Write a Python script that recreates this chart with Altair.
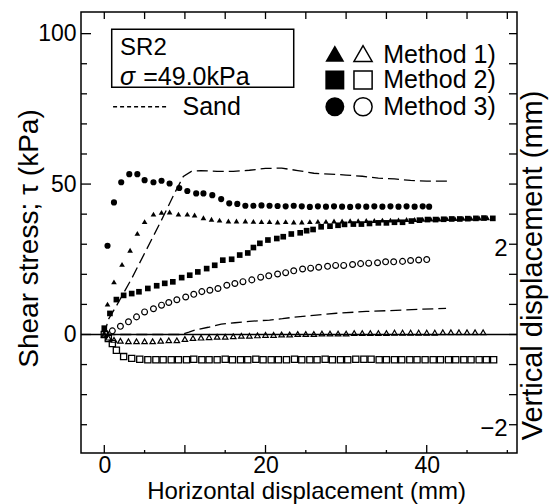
import altair as alt
import pandas as pd

FONT = "Liberation Sans"

# ---------------- data ----------------
# Method 1) shear stress (filled triangles): horizontal disp (mm), tau (kPa)
m1_x = [0.4, 1.2, 2.2, 3.2, 4.1, 5.0, 6.1, 7.1, 8.1, 9.2, 10.3, 11.2, 12.3, 13.3, 14.3, 15.4,
        16.4, 17.5, 18.5, 19.5, 20.5, 21.5, 22.5, 23.5, 24.5, 25.5, 26.5, 27.5, 28.5, 29.5,
        30.5, 31.5, 32.5, 33.5, 34.5, 35.5, 36.5, 37.5, 38.5, 39.5, 40.5, 41.5, 42.5, 43.5,
        44.5, 45.5, 46.5, 47.5]
m1_tau = [10.1, 17.5, 23.3, 28.0, 33.6, 37.5, 40.0, 40.6, 40.7, 40.0, 40.0, 39.7, 38.8, 38.3,
          38.0, 37.7, 37.7, 37.7, 37.6, 37.5, 37.5, 37.4, 37.5, 37.4, 37.4, 37.5, 37.6, 37.6,
          37.7, 37.7, 37.8, 37.8, 37.9, 37.9, 38.0, 38.0, 38.1, 38.2, 38.2, 38.3, 38.4, 38.4,
          38.5, 38.5, 38.6, 38.6, 38.7, 38.8]

# Method 2) shear stress (filled squares)
m2_x = [0.0, 0.7, 1.5, 2.4, 3.4, 4.3, 5.4, 6.5, 7.5, 8.5, 9.6, 10.6, 11.6, 12.7, 13.7, 14.7,
        15.8, 16.8, 17.8, 18.5, 19.3, 20.3, 21.4, 22.2, 23.2, 24.3, 25.1, 25.9, 26.9, 28.0,
        29.0, 29.8, 30.9, 31.9, 32.9, 34.0, 35.0, 36.0, 37.0, 38.1, 39.1, 40.1, 41.1, 42.1,
        43.1, 44.1, 45.1, 46.1, 47.1, 48.2]
m2_tau = [2.1, 7.0, 11.6, 13.0, 13.6, 14.2, 15.3, 16.2, 17.0, 17.5, 18.9, 19.7, 20.8, 21.9,
          23.0, 24.7, 25.0, 26.4, 27.1, 28.9, 30.3, 31.4, 31.9, 32.5, 33.4, 33.8, 34.5, 34.9,
          35.8, 36.0, 36.3, 36.6, 36.7, 36.7, 36.9, 37.1, 37.1, 37.3, 37.3, 37.7, 38.0, 38.2,
          38.2, 38.3, 38.4, 38.4, 38.5, 38.6, 38.7, 38.6]

# Method 3) shear stress (filled circles)
m3_x = [0.4, 1.2, 2.1, 3.1, 4.1, 5.0, 6.1, 7.1, 8.1, 9.3, 10.3, 11.4, 12.3, 13.4, 14.5, 15.5,
        16.5, 17.5, 18.5, 19.5, 20.5, 21.5, 22.5, 23.5, 24.5, 25.5, 26.5, 27.5, 28.5, 29.5,
        30.5, 31.5, 32.5, 33.5, 34.5, 35.5, 36.5, 37.5, 38.5, 39.5, 40.3]
m3_tau = [29.5, 43.9, 50.6, 53.3, 53.3, 51.3, 50.6, 51.1, 50.2, 48.7, 47.7, 46.9, 46.9, 46.3,
          45.0, 43.6, 43.4, 42.8, 42.8, 42.9, 42.8, 42.7, 42.6, 42.8, 42.6, 42.4, 42.6, 42.5,
          42.6, 42.5, 42.4, 42.6, 42.5, 42.6, 42.5, 42.6, 42.5, 42.6, 42.5, 42.6, 42.5]

# Sand shear stress (dashed)
sand_x = [0.0, 0.5, 1.5, 3.4, 5.0, 7.0, 8.8, 9.8, 10.8, 12.0, 14.0, 16.0, 18.0, 20.0, 22.0,
          24.0, 26.0, 28.0, 30.0, 32.0, 34.0, 36.0, 38.0, 40.0, 42.6]
sand_tau = [0.0, 5.0, 9.5, 18.6, 27.0, 37.5, 47.4, 52.5, 54.2, 54.5, 54.2, 54.2, 54.6, 55.2,
            55.3, 54.5, 53.6, 53.3, 53.0, 52.6, 52.0, 51.7, 51.2, 51.0, 51.0]

# Method 1) vertical displacement (open triangles): mm
v1_x = [0.0, 0.5, 1.2, 2.0, 3.0, 4.0, 5.0, 6.0, 7.0, 8.0, 9.0, 10.0, 11.0, 12.0, 13.0, 14.0,
        15.0, 16.0, 17.0, 18.0, 19.0, 20.0, 21.0, 22.0, 23.0, 24.0, 25.0, 26.0, 27.0, 28.0,
        29.0, 30.0, 31.0, 32.0, 33.0, 34.0, 35.0, 36.0, 37.0, 38.0, 39.0, 40.0, 41.0, 42.0,
        43.0, 44.0, 45.0, 46.0, 47.0]
v1_d = [0.0, -0.07, -0.12, -0.14, -0.15, -0.15, -0.15, -0.15, -0.14, -0.13, -0.13, -0.10,
        -0.08, -0.07, -0.06, -0.05, -0.05, -0.04, -0.03, -0.03, -0.02, -0.01, -0.01, 0.0, 0.0,
        0.01, 0.01, 0.01, 0.02, 0.02, 0.02, 0.02, 0.03, 0.03, 0.03, 0.03, 0.03, 0.04, 0.04,
        0.04, 0.04, 0.04, 0.04, 0.05, 0.05, 0.05, 0.05, 0.05, 0.05]

# Method 2) vertical displacement (open squares)
v2_x = [0.0, 0.5, 1.0, 1.5, 2.4, 3.4, 4.4, 5.4, 6.4, 7.3, 8.3, 9.2, 10.2, 11.1, 12.1, 13.0,
        14.0, 15.0, 15.9, 16.9, 17.8, 18.8, 19.7, 20.7, 21.6, 22.6, 23.6, 24.5, 25.5, 26.4,
        27.4, 28.3, 29.3, 30.2, 31.2, 32.2, 33.1, 34.1, 35.0, 36.0, 36.9, 37.9, 38.8, 39.8,
        40.8, 41.7, 42.7, 43.6, 44.6, 45.5, 46.5, 47.4, 48.3]
v2_d = [0.0, -0.09, -0.20, -0.35, -0.49, -0.53, -0.55, -0.56, -0.56, -0.56, -0.56, -0.56,
        -0.56, -0.55, -0.56, -0.56, -0.56, -0.55, -0.56, -0.56, -0.56, -0.55, -0.56, -0.56,
        -0.56, -0.56, -0.55, -0.56, -0.56, -0.56, -0.55, -0.56, -0.56, -0.56, -0.55, -0.55,
        -0.55, -0.56, -0.56, -0.56, -0.56, -0.56, -0.56, -0.56, -0.56, -0.56, -0.56, -0.56,
        -0.56, -0.56, -0.56, -0.56, -0.56]

# Method 3) vertical displacement (open circles)
v3_x = [0.2, 1.0, 2.0, 3.0, 4.0, 5.0, 6.1, 7.1, 8.0, 9.0, 10.1, 11.1, 12.1, 13.1, 14.1, 15.2,
        16.2, 17.2, 18.3, 19.4, 20.4, 21.5, 22.5, 23.5, 24.6, 25.6, 26.6, 27.7, 28.7, 29.7,
        30.8, 31.8, 32.8, 33.9, 34.9, 35.9, 37.0, 38.0, 39.0, 40.0]
v3_d = [0.02, 0.08, 0.18, 0.28, 0.39, 0.50, 0.57, 0.65, 0.71, 0.77, 0.83, 0.89, 0.95, 0.98,
        1.02, 1.09, 1.13, 1.17, 1.21, 1.27, 1.30, 1.34, 1.37, 1.41, 1.45, 1.47, 1.49, 1.51,
        1.53, 1.53, 1.55, 1.57, 1.58, 1.59, 1.61, 1.61, 1.62, 1.64, 1.65, 1.66]

# Sand vertical displacement (dashed)
sandv_x = [0.0, 9.5, 10.5, 11.3, 12.9, 14.5, 16.2, 18.0, 20.5, 22.1, 23.4, 26.3, 28.8, 32.5,
           35.4, 39.5, 42.4]
sandv_d = [0.0, 0.0, 0.05, 0.10, 0.16, 0.23, 0.26, 0.29, 0.32, 0.35, 0.38, 0.43, 0.47, 0.51,
           0.53, 0.56, 0.58]

# axis ticks / labels
x_label_values = [0, 20, 40]
x_major_ticks = [0, 10, 20, 30, 40]
x_minor_ticks = [5, 15, 25, 35, 45, 50]
x_top_ticks = [0, 5, 10, 15, 20, 25, 30, 35, 40, 45, 50]
y_label_values = [0, 50, 100]
y_major_ticks = [0, 50, 100]
y_minor_ticks = [-30, -20, -10, 10, 20, 30, 40, 60, 70, 80, 90]
y_right_ticks = [-30, -20, -10, 0, 10, 20, 30, 40, 50, 60, 70, 80, 90, 100]
yr_label_values = [2, -2]

# legend annotations (data coordinates: mm, kPa)
leg_labels = ["Method 1)", "Method 2)", "Method 3)"]
leg_shapes = ["triangle-up", "square", "circle"]
leg_sym_y = [93.4, 84.6, 75.7]
leg_text_y = [90.2, 81.8, 72.9]
leg_fill_x = 28.6
leg_open_x = 32.1
leg_text_x = 34.6
box_x = [0.92, 23.5]
box_y = [82.2, 101.5]
sr2_text = ["SR2"]
sigma_text = ["σ", "=49.0kPa"]
sand_leg_x = [1.09, 7.79]
sand_leg_y = 75.7
sand_label = "Sand"

# ---------------- chart ----------------
W, H = 436, 441
XS = alt.Scale(domain=[-2.89, 51.2], nice=False, zero=False)
YS = alt.Scale(domain=[-39.4, 107.2], nice=False, zero=False)
YRS = alt.Scale(domain=[-39.4 / 15, 107.2 / 15], nice=False, zero=False)

xaxis = alt.Axis(values=x_label_values, title="Horizontal displacement (mm)", grid=False,
                 ticks=False, tickSize=0, domain=False, labelFontSize=23, labelPadding=1,
                 labelFont=FONT, labelColor="black", titleFont=FONT, titleFontSize=24,
                 titleFontWeight="normal", titleColor="black", titleX=225, titleY=45,
                 titleBaseline="alphabetic", titleAlign="center")
yaxis = alt.Axis(values=y_label_values, title="Shear stress; τ (kPa)", orient="left",
                 grid=False, ticks=False, tickSize=0, domain=False, labelFontSize=23,
                 labelPadding=5, labelFont=FONT, labelColor="black", titleFont=FONT,
                 titleFontSize=28, titleFontWeight="normal", titleColor="black",
                 titleAngle=270, titleX=-44, titleY=226, titleBaseline="alphabetic",
                 titleAlign="center")
yraxis = alt.Axis(values=yr_label_values, title="Vertical displacement (mm)", orient="right",
                  labelExpr="datum.value > 0 ? '2' : '−2'", grid=False, ticks=False,
                  tickSize=0, domain=False, labelFontSize=24, labelAlign="right",
                  labelPadding=-10, labelOffset=4, labelFont=FONT, labelColor="black",
                  titleFont=FONT, titleFontSize=29, titleFontWeight="normal",
                  titleColor="black", titleAngle=270, titleX=24, titleY=253,
                  titleBaseline="alphabetic", titleAlign="center")


def XE(f="x"):
    return alt.X(f"{f}:Q", scale=XS, axis=xaxis)


def YE(f="y"):
    return alt.Y(f"{f}:Q", scale=YS, axis=yaxis)


def YRE(f="y"):
    return alt.Y(f"{f}:Q", scale=YRS, axis=yraxis)


def df(xs, ys):
    return pd.DataFrame({"x": xs, "y": ys})


def pts(data, shape, filled, size, yenc, sw=1.0):
    return alt.Chart(data).mark_point(shape=shape, filled=filled, size=size, color="black",
                                       opacity=1, strokeWidth=sw).encode(x=XE(), y=yenc)


left = []
left.append(alt.Chart(df(sand_x, sand_tau)).mark_line(color="black", strokeWidth=1.3,
                                                       strokeDash=[11, 5]).encode(x=XE(), y=YE()))
left.append(pts(df(m1_x, m1_tau), "triangle-up", True, 32, YE()))
left.append(pts(df(m2_x, m2_tau), "square", True, 32, YE()))
left.append(pts(df(m3_x, m3_tau), "circle", True, 38, YE()))
# zero line
left.append(alt.Chart(df([0], [0])).mark_rule(color="black", strokeWidth=1.3).encode(y=YE()))
# ticks
tick = dict(color="black", strokeWidth=1.3)
left.append(alt.Chart(pd.DataFrame({"y": y_major_ticks})).mark_rule(**tick).encode(
    y=YE(), x=alt.value(0), x2=alt.value(10)))
left.append(alt.Chart(pd.DataFrame({"y": y_minor_ticks})).mark_rule(**tick).encode(
    y=YE(), x=alt.value(0), x2=alt.value(6)))
left.append(alt.Chart(pd.DataFrame({"y": y_right_ticks})).mark_rule(**tick).encode(
    y=YE(), x=alt.value(W), x2=alt.value(W - 8)))
left.append(alt.Chart(pd.DataFrame({"x": x_major_ticks})).mark_rule(**tick).encode(
    x=XE(), y=alt.value(H), y2=alt.value(H - 8)))
left.append(alt.Chart(pd.DataFrame({"x": x_minor_ticks})).mark_rule(**tick).encode(
    x=XE(), y=alt.value(H), y2=alt.value(H - 3)))
left.append(alt.Chart(pd.DataFrame({"x": x_top_ticks})).mark_rule(**tick).encode(
    x=XE(), y=alt.value(0), y2=alt.value(7)))

# legend box
left.append(alt.Chart(pd.DataFrame({"x": [box_x[0]], "x2": [box_x[1]], "y": [box_y[0]],
                                    "y2": [box_y[1]]})).mark_rect(
    fill=None, fillOpacity=0, stroke="black", strokeWidth=1.5).encode(
    x=XE(), x2="x2:Q", y=YE(), y2="y2:Q"))
txt = dict(font=FONT, color="black", align="left", baseline="alphabetic")
left.append(alt.Chart(pd.DataFrame({"x": [1.96], "y": [92.9], "t": sr2_text})).mark_text(
    fontSize=24, **txt).encode(x=XE(), y=YE(), text="t:N"))
left.append(alt.Chart(pd.DataFrame({"x": [1.96], "y": [83.0], "t": [sigma_text[0]]})).mark_text(
    fontSize=25, fontStyle="italic", **txt).encode(x=XE(), y=YE(), text="t:N"))
left.append(alt.Chart(pd.DataFrame({"x": [4.83], "y": [83.0], "t": [sigma_text[1]]})).mark_text(
    fontSize=25, **txt).encode(x=XE(), y=YE(), text="t:N"))
left.append(alt.Chart(df(sand_leg_x, [sand_leg_y, sand_leg_y])).mark_line(
    color="black", strokeWidth=1.3, strokeDash=[4, 3]).encode(x=XE(), y=YE()))
left.append(alt.Chart(pd.DataFrame({"x": [9.7], "y": [72.9], "t": [sand_label]})).mark_text(
    fontSize=25, **txt).encode(x=XE(), y=YE(), text="t:N"))
for lab, shp, sy, ty in zip(leg_labels, leg_shapes, leg_sym_y, leg_text_y):
    left.append(pts(df([leg_fill_x], [sy]), shp, True, 360, YE()))
    left.append(pts(df([leg_open_x], [sy]), shp, False, 330, YE(), sw=1.5))
    left.append(alt.Chart(pd.DataFrame({"x": [leg_text_x], "y": [ty], "t": [lab]})).mark_text(
        fontSize=25, **txt).encode(x=XE(), y=YE(), text="t:N"))

right = []
right.append(alt.Chart(df(sandv_x, sandv_d)).mark_line(color="black", strokeWidth=1.3,
                                                       strokeDash=[11, 5]).encode(x=XE(), y=YRE()))
right.append(pts(df(v1_x, v1_d), "triangle-up", False, 30, YRE(), sw=1.2))
right.append(pts(df(v2_x, v2_d), "square", False, 38, YRE(), sw=1.3))
right.append(pts(df(v3_x, v3_d), "circle", False, 34, YRE(), sw=1.2))

chart = alt.layer(alt.layer(*left), alt.layer(*right)).resolve_scale(y="independent").properties(
    width=W, height=H, autosize=alt.AutoSizeParams(type="none"),
    padding={"left": 81, "top": 12, "right": 32, "bottom": 51},
    background="white",
).configure_view(stroke="black", strokeWidth=1.5)

chart.save("out.html", embed_options={"renderer": "svg", "actions": False})
